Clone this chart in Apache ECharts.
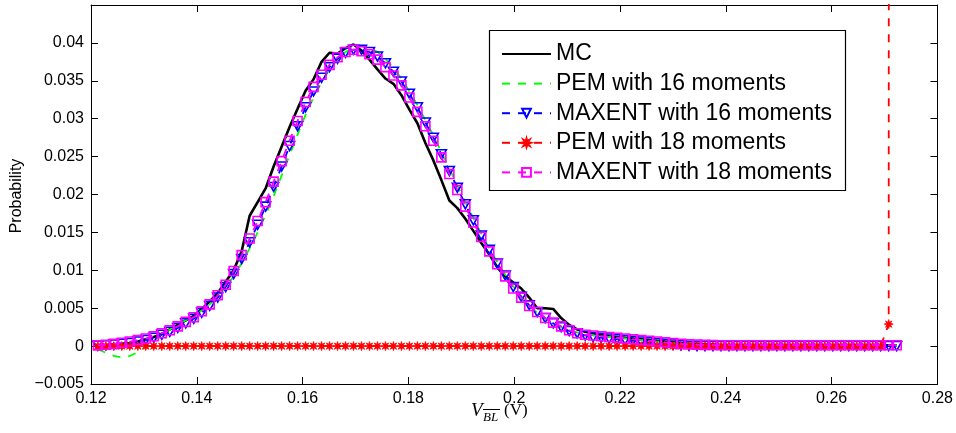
<!DOCTYPE html>
<html>
<head>
<meta charset="utf-8">
<script src="https://cdn.jsdelivr.net/npm/echarts@6/dist/echarts.min.js"></script>
<style>html,body{margin:0;padding:0;background:#fff;}#c{width:956px;height:433px;}</style>
</head>
<body>
<div id="c"></div>
<script>
// x sample grid (V_BL, volts)
const xs = [0.1213,0.12281,0.12432,0.12583,0.12734,0.12885,0.13036,0.13187,0.13338,0.13489,
0.1364,0.13791,0.13942,0.14093,0.14244,0.14395,0.14546,0.14697,0.14848,0.14999,
0.1515,0.15301,0.15452,0.15603,0.15754,0.15905,0.16056,0.16207,0.16358,0.16509,
0.1666,0.16811,0.16962,0.17113,0.17264,0.17415,0.17566,0.17717,0.17868,0.18019,
0.1817,0.18321,0.18472,0.18623,0.18774,0.18925,0.19076,0.19227,0.19378,0.19529,
0.1968,0.19831,0.19982,0.20133,0.20284,0.20435,0.20586,0.20737,0.20888,0.21039,
0.2119,0.21341,0.21492,0.21643,0.21794,0.21945,0.22096,0.22247,0.22398,0.22549,
0.227,0.22851,0.23002,0.23153,0.23304,0.23455,0.23606,0.23757,0.23908,0.24059,
0.2421,0.24361,0.24512,0.24663,0.24814,0.24965,0.25116,0.25267,0.25418,0.25569,
0.2572,0.25871,0.26022,0.26173,0.26324,0.26475,0.26626,0.26777,0.26928,0.27079,
0.2723];

const mc = [0.0001,0.0001,0.0002,0.0003,0.0004,0.0006,0.0009,0.0012,0.0016,0.0022,
0.0028,0.0034,0.004,0.0049,0.0059,0.007,0.0085,0.01,0.0125,0.0172,
0.019,0.0208,0.0237,0.0263,0.0289,0.0313,0.0337,0.0352,0.0375,0.0387,
0.0386,0.0393,0.0398,0.039,0.0378,0.0365,0.0353,0.0346,0.0331,0.0312,
0.0294,0.0268,0.0245,0.0219,0.0192,0.0182,0.0168,0.0152,0.0136,0.0121,
0.0104,0.0092,0.0084,0.0076,0.0064,0.005,0.005,0.0049,0.0037,0.0028,
0.0022,0.0019,0.0017,0.0015,0.0013,0.0012,0.0011,0.001,0.0009,0.0008,
0.0007,0.0006,0.0005,0.0004,0.0003,0.0003,0.0002,0.0002,0.0001,0.0001,
0.0001,0.0001,0.0001,0.0001,0.0001,0.0001,0.0001,0.0001,0.0001,0.0001,
0.0001,0.0001,0.0001,0.0001,0.0001,0.0001,0.0001,0.0001,0.0001,0.0001,
0.0001];

const pem16 = [-0.0004,-0.0009,-0.0013,-0.0015,-0.0013,-0.0008,-0.0001,0.0007,0.0015,0.0022,
0.0028,0.0034,0.004,0.0047,0.0055,0.0065,0.0077,0.0092,0.0109,0.0129,
0.015,0.0173,0.0198,0.0225,0.0252,0.0279,0.0305,0.0328,0.0348,0.0365,
0.0378,0.0388,0.0394,0.0396,0.0394,0.0388,0.0379,0.0367,0.0353,0.0336,
0.0318,0.0298,0.0278,0.0256,0.0234,0.0212,0.019,0.0169,0.0148,0.0129,
0.0111,0.0094,0.0079,0.0066,0.0054,0.0044,0.0036,0.003,0.0025,0.0021,
0.0018,0.0016,0.0014,0.0013,0.0012,0.0011,0.001,0.0009,0.0008,0.0007,
0.0006,0.0005,0.0004,0.0003,0.00025,0.0002,0.00015,0.0001,0.0001,0.0001,
0.0001,0.0001,0.0001,0.0001,0.0001,0.0001,0.0001,0.0001,0.0001,0.0001,
0.0001,0.0001,0.0001,0.0001,0.0001,0.0001,0.0001,0.0001,0.0001,0.0001,
0.0001];

const maxent16 = [0.00005,0.0001,0.0002,0.0003,0.0004,0.0006,0.0008,0.0011,0.0015,0.0019,
0.0024,0.003,0.0036,0.0044,0.0053,0.0064,0.0078,0.0095,0.0115,0.0137,
0.016,0.0184,0.021,0.0237,0.0264,0.029,0.0315,0.0336,0.0354,0.0368,
0.0379,0.0387,0.0391,0.0391,0.0388,0.0382,0.0373,0.0362,0.0349,0.0333,
0.0315,0.0295,0.0275,0.0253,0.0231,0.0209,0.0187,0.0166,0.0146,0.0127,
0.0109,0.0093,0.0078,0.0065,0.0054,0.0045,0.0037,0.003,0.0025,0.002,
0.0017,0.0014,0.0012,0.0011,0.001,0.0009,0.0008,0.0007,0.0006,0.0005,
0.0004,0.0003,0.0002,0.0001,0.00005,0,0,0,0,0,
0,0,0,0,0,0,0,0,0,0,
0,0,0,0,0,0,0,0,0,0,
0];

const pem18 = [0,0,0,0,0,0,0,0,0,0,
0,0,0,0,0,0,0,0,0,0,
0,0,0,0,0,0,0,0,0,0,
0,0,0,0,0,0,0,0,0,0,
0,0,0,0,0,0,0,0,0,0,
0,0,0,0,0,0,0,0,0,0,
0,0,0,0,0,0,0,0,0,0,
0,0,0,0,0,0,0,0,0,0,
0,0,0,0,0,0,0,0,0,0,
0,0,0,0,0,0,0,0,0,0.0029,
5];

const maxent18 = [0.0001,0.00018,0.0003,0.00045,0.0006,0.0008,0.001,0.0013,0.0017,0.0021,
0.0026,0.0032,0.0038,0.0046,0.0055,0.0067,0.0081,0.0099,0.012,0.0142,
0.0165,0.019,0.0217,0.0244,0.0271,0.0297,0.0322,0.0342,0.0358,0.0371,
0.0381,0.0388,0.0391,0.0389,0.0385,0.0378,0.0368,0.0357,0.0344,0.0328,
0.0309,0.029,0.0271,0.0249,0.0227,0.0206,0.0184,0.0163,0.0144,0.0125,
0.0108,0.0092,0.0076,0.0064,0.0053,0.0045,0.0037,0.0031,0.0026,0.0021,
0.0017,0.0015,0.0014,0.0013,0.0012,0.0011,0.001,0.0009,0.0008,0.0007,
0.0006,0.0005,0.0004,0.0003,0.00025,0.0002,0.00016,0.00014,0.00012,0.00012,
0.00012,0.00012,0.00012,0.00012,0.00012,0.00012,0.00012,0.00012,0.00012,0.00012,
0.00012,0.00012,0.00012,0.00012,0.00012,0.00012,0.00012,0.00012,0.00012,0.00012,
0.00012];

const seriesNames = ['MC','PEM with 16 moments','MAXENT with 16 moments','PEM with 18 moments','MAXENT with 18 moments'];
const xTicks = {min:0.12, max:0.28, interval:0.02};
const yTicks = {min:-0.005, max:0.045, interval:0.005};

const pair = arr => xs.map((x,i)=>[x, arr[i]]);
const FONT = 'Liberation Sans, Arial, Helvetica, sans-serif';
const starPath = 'path://M10,5L7.03,5.84L8.54,8.54L5.84,7.03L5,10L4.16,7.03L1.46,8.54L2.97,5.84L0,5L2.97,4.16L1.46,1.46L4.16,2.97L5,0L5.84,2.97L8.54,1.46L7.03,4.16Z';
const triDown = 'path://M0,0L10,0L5,9Z';

function fmtY(v){
  if (Math.abs(v - 0.045) < 1e-9) return '';
  let s = String(parseFloat(v.toFixed(4)));
  return s.replace('-', '\u2212');
}
function fmtX(v){ return String(parseFloat(v.toFixed(4))); }

const chart = echarts.init(document.getElementById('c'), null, {renderer:'canvas'});
const grid = {left:91, right:18, top:5, bottom:49};

const baseAxisX = {
  type:'value', min:xTicks.min, max:xTicks.max, interval:xTicks.interval,
  axisLine:{show:true, onZero:false, lineStyle:{color:'#000', width:1}},
  axisTick:{show:true, inside:true, length:7, lineStyle:{color:'#000', width:1}},
  splitLine:{show:false}
};
const baseAxisY = {
  type:'value', min:yTicks.min, max:yTicks.max, interval:yTicks.interval,
  axisLine:{show:true, onZero:false, lineStyle:{color:'#000', width:1}},
  axisTick:{show:true, inside:true, length:7, lineStyle:{color:'#000', width:1}},
  splitLine:{show:false}
};

const hiddenSym = {color:'rgba(0,0,0,0)', borderColor:'rgba(0,0,0,0)', borderWidth:0};

const option = {
  animation:false,
  backgroundColor:'#fff',
  grid: grid,
  xAxis:[
    Object.assign({}, baseAxisX, {position:'bottom',
      axisLabel:{show:true, color:'#000', fontFamily:FONT, fontSize:16, margin:7, formatter:fmtX}}),
    Object.assign({}, baseAxisX, {position:'top', axisLabel:{show:false}})
  ],
  yAxis:[
    Object.assign({}, baseAxisY, {position:'left',
      axisLabel:{show:true, color:'#000', fontFamily:FONT, fontSize:16, margin:7, formatter:fmtY}}),
    Object.assign({}, baseAxisY, {position:'right', axisLabel:{show:false}})
  ],
  legend:{
    show:true, orient:'vertical', left:496, top:37,
    itemWidth:49, itemHeight:11, itemGap:5.6,
    data: [
      {name:seriesNames[0], itemStyle:hiddenSym},
      {name:seriesNames[1], itemStyle:hiddenSym},
      {name:seriesNames[2]},
      {name:seriesNames[3]},
      {name:seriesNames[4]}
    ],
    textStyle:{color:'#000', fontFamily:FONT, fontSize:23, lineHeight:24, padding:[0,0,0,0]},
    selectedMode:false
  },
  series:[
    {name:seriesNames[0], type:'line', data:pair(mc), showSymbol:false, symbol:'none',
     lineStyle:{color:'#000', width:2.6}, itemStyle:{color:'#000'}, emphasis:{disabled:true}, z:2},
    {name:seriesNames[1], type:'line', data:pair(pem16), showSymbol:false, symbol:'none',
     lineStyle:{color:'#00ff00', width:1.8, type:[8,8]}, itemStyle:{color:'#00ff00'}, emphasis:{disabled:true}, z:3},
    {name:seriesNames[2], type:'line', data:pair(maxent16), symbol:triDown, symbolSize:[10,9], showSymbol:true,
     lineStyle:{color:'#0000ff', width:1.8, type:[8,8]},
     itemStyle:{color:'rgba(0,0,0,0)', borderColor:'#0000ff', borderWidth:1.6}, emphasis:{disabled:true}, z:4},
    {name:seriesNames[3], type:'line', data:pair(pem18), symbol:starPath, symbolSize:9, showSymbol:true,
     lineStyle:{color:'#ff0000', width:1.8, type:[8,8]},
     itemStyle:{color:'#ff0000', borderColor:'#ff0000', borderWidth:0.8}, emphasis:{disabled:true}, z:5, clip:true},
    {name:seriesNames[4], type:'line', data:pair(maxent18), symbol:'rect', symbolSize:9, showSymbol:true,
     lineStyle:{color:'#ff00ff', width:1.8, type:[8,8]},
     itemStyle:{color:'rgba(0,0,0,0)', borderColor:'#ff00ff', borderWidth:1.6}, emphasis:{disabled:true}, z:6}
  ],
  graphic:[
    {type:'rect', shape:{x:489.5, y:30.5, width:356, height:160}, style:{fill:'#fff', stroke:'#000', lineWidth:1.2}, z:-1, silent:true},
    {type:'text', x:17, y:196, rotation:Math.PI/2,
     style:{text:'Probability', fill:'#000', font:'16px '+FONT, align:'center', verticalAlign:'middle'}},
    {type:'text', x:471, y:401, style:{text:'V', fill:'#000', font:'italic 19px "Liberation Serif", "DejaVu Serif", serif', align:'left', verticalAlign:'top'}},
    {type:'text', x:483, y:411, style:{text:'BL', fill:'#000', font:'italic 13px "Liberation Serif", "DejaVu Serif", serif', align:'left', verticalAlign:'top'}},
    {type:'line', shape:{x1:483, y1:409.5, x2:500, y2:409.5}, style:{stroke:'#000', lineWidth:1}},
    {type:'text', x:504, y:402, style:{text:'(V)', fill:'#000', font:'17px "Liberation Serif", "DejaVu Serif", serif', align:'left', verticalAlign:'top'}}
  ]
};
chart.setOption(option);
</script>
</body>
</html>
